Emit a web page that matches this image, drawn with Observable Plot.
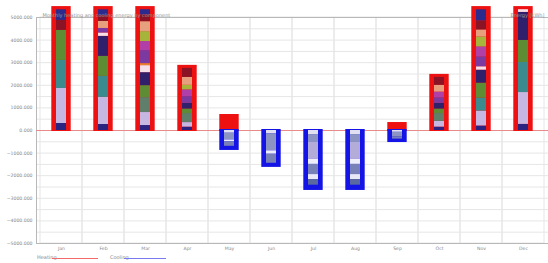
<!DOCTYPE html>
<html><head><meta charset="utf-8">
<script src="https://cdn.jsdelivr.net/npm/d3@7"></script>
<script src="https://cdn.jsdelivr.net/npm/@observablehq/plot@0.6"></script>
<style>
body{margin:0;background:#fff;font-family:"DejaVu Sans",sans-serif}
#legend{position:relative;height:10px;font-size:5px;color:#888}
#legend span{position:absolute;top:1px}
#legend i{position:absolute;top:5px;height:0;border-top:1px solid}
</style>
</head><body><div id="chart"></div>
<div id="legend"><span style="left:37px">Heating</span><i style="left:52px;width:46px;border-color:#f26a6a"></i><span style="left:110px">Cooling</span><i style="left:124px;width:42px;border-color:#7a7af0"></i></div>
<script>
const months = ["Jan","Feb","Mar","Apr","May","Jun","Jul","Aug","Sep","Oct","Nov","Dec"];
const yTicks = [-5000,-4000,-3000,-2000,-1000,0,1000,2000,3000,4000,5000];
const heatingTotal = [5350,5350,5350,2750,575,0,0,0,220,2350,5350,5350];
const coolingTotal = [0,0,0,0,-750,-1500,-2520,-2520,-400,0,0,0];

const heatComponents = ["Ground floor","External walls","Roof","Ventilation","Infiltration","Windows","Doors","Thermal bridges","Glazing frames","Skylights","Partitions","Internal walls","Ducts","Hot water"];
const hGroundFloor   = [310,265,220,150,0,0,0,0,0,150,200,270];
const hExternalWalls = [1550,1200,575,200,0,0,0,0,0,250,660,1410];
const hRoof          = [0,0,660,400,0,0,0,0,0,350,0,0];
const hVentilation   = [1240,930,0,0,0,0,0,0,0,0,575,1330];
const hInfiltration  = [1330,885,530,200,0,0,0,0,0,200,660,975];
const hWindows       = [0,885,575,250,0,0,0,0,0,250,575,1240];
const hDoors         = [0,150,310,0,0,0,0,0,0,0,150,120];
const hThermalBridges= [0,0,90,0,0,0,0,0,0,0,0,0];
const hGlazingFrames = [0,200,575,300,0,0,0,0,0,250,440,0];
const hSkylights     = [0,0,400,300,0,0,0,0,0,250,440,0];
const hPartitions    = [0,0,440,200,0,0,0,0,0,0,440,0];
const hInternalWalls = [0,310,440,350,0,0,0,0,0,300,310,0];
const hDucts         = [440,250,300,400,0,0,0,0,0,350,400,0];
const hHotWater      = [470,265,230,0,0,0,0,0,0,0,490,0];
const heatSeries = [hGroundFloor,hExternalWalls,hRoof,hVentilation,hInfiltration,hWindows,hDoors,hThermalBridges,hGlazingFrames,hSkylights,hPartitions,hInternalWalls,hDucts,hHotWater];

const coolComponents = ["Solar gains","Occupants","Lighting","Equipment","Cool roof","Cool walls","Cool windows"];
const cSolar     = [0,0,0,0,-120,-150,-180,-180,-80,0,0,0];
const cOccupants = [0,0,0,0,-300,-750,-350,-350,-200,0,0,0];
const cLighting  = [0,0,0,0,0,0,-750,-750,0,0,0,0];
const cEquipment = [0,0,0,0,-80,-150,-220,-220,0,0,0,0];
const cRoof      = [0,0,0,0,-200,-400,-450,-450,-100,0,0,0];
const cWalls     = [0,0,0,0,0,0,-220,-220,0,0,0,0];
const cWindows   = [0,0,0,0,0,0,-250,-250,0,0,0,0];
const coolSeries = [cSolar,cOccupants,cLighting,cEquipment,cRoof,cWalls,cWindows];

const heatColors = ["#2a2380","#c6b6e2","#5f7f6a","#3b8b8e","#5d8c34","#30206c","#f6dfe8","#e88030","#7c3aa0","#b040a8","#a6b43c","#e6a07e","#8a1426","#2d2a8e"];
const coolColors = ["#e0e0f2","#8c94c4","#b4acd8","#eeeefa","#7880b8","#e8e8f6","#5a6aa0"];

const heatRows = heatComponents.flatMap((c,i)=>months.map((m,j)=>({month:m,component:c,value:heatSeries[i][j]})));
const coolRows = coolComponents.flatMap((c,i)=>months.map((m,j)=>({month:m,component:c,value:coolSeries[i][j]})));
const heatTot = months.map((m,j)=>({month:m,value:heatingTotal[j]})).filter(d=>d.value!==0);
const coolTot = months.map((m,j)=>({month:m,value:coolingTotal[j]})).filter(d=>d.value!==0);

const chart = Plot.plot({
  width:548, height:253,
  marginLeft:36, marginRight:0, marginTop:17, marginBottom:10,
  style:{fontSize:"4.6px", color:"#888", background:"#fff", fontFamily:"DejaVu Sans, sans-serif"},
  x:{domain:months, padding:0, label:null, tickSize:0, tickPadding:3},
  y:{domain:[-5000,5000], label:null, ticks:yTicks, tickFormat:d3.format(".3f"), tickSize:0, tickPadding:4},
  color:{domain:[...heatComponents,...coolComponents], range:[...heatColors,...coolColors]},
  marks:[
    Plot.ruleY(d3.range(-5000,5001,500), {stroke:"#e6e6e6"}),
    Plot.barY(months, {x:d=>d, y1:-5000, y2:5000, fill:null, stroke:"#e6e6e6"}),
    Plot.frame({stroke:"#b8b8b8"}),
    Plot.ruleY([0], {stroke:"#e88a8a"}),
    Plot.barY(heatTot, {x:"month", y1:0, y2:"value", fill:"#ee1111", insetLeft:11.3, insetRight:11.3, insetTop:-3, insetBottom:-1}),
    Plot.barY(coolTot, {x:"month", y1:0, y2:"value", fill:"#1414e6", insetLeft:11.3, insetRight:11.3, insetTop:-1, insetBottom:-3}),
    Plot.barY(heatRows, {x:"month", y:"value", fill:"component", insetLeft:16, insetRight:16}),
    Plot.barY(coolRows, {x:"month", y:"value", fill:"component", insetLeft:16, insetRight:16}),
    Plot.text(["Monthly heating and cooling energy by component"], {frameAnchor:"top-left", dx:6, dy:-4, fill:"#999", fontSize:5}),
    Plot.text(["Energy [kWh]"], {frameAnchor:"top-right", dx:-4, dy:-4, fill:"#999", fontSize:5})
  ]
});
document.getElementById("chart").append(chart);
</script>
</body></html>
